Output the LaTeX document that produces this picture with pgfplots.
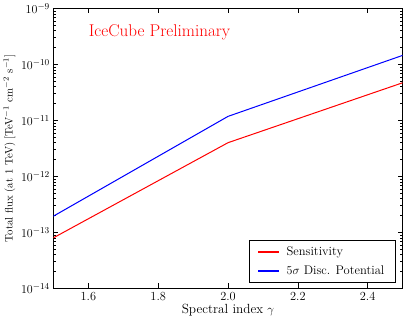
\documentclass[border={0pt 0pt 4pt 0pt}]{standalone}
\usepackage{pgfplots}
\pgfplotsset{compat=1.18}
\begin{document}
\begin{tikzpicture}
\begin{axis}[
  scale only axis,
  width=348pt, height=279pt,
  xmin=1.5, xmax=2.5,
  ymode=log, ymin=1e-14, ymax=1e-9,
  xtick={1.6,1.8,2.0,2.2,2.4},
  xticklabels={1.6,1.8,2.0,2.2,2.4},
  tick align=inside,
  tick style={black, line width=0.5pt},
  major tick length=5pt, minor tick length=2.5pt,
  minor x tick num=0,
  axis line style={line width=0.8pt},
  tick label style={font=\fontsize{12.3}{14}\selectfont},
  xlabel={Spectral index $\gamma$},
  ylabel={Total flux (at 1 TeV) [TeV$^{-1}$ cm$^{-2}$ s$^{-1}$]},
  xlabel style={font=\fontsize{13.2}{15}\selectfont, yshift=3pt},
  ylabel style={font=\fontsize{10.8}{13}\selectfont, yshift=-1pt},
  legend style={at={(1,0)}, anchor=south east, xshift=-7pt, yshift=6pt,
    font=\fontsize{12.5}{14}\selectfont, row sep=5pt, inner xsep=9pt, inner ysep=4pt},
  legend cell align=left,
]
\addplot[color=red, line width=1pt, forget plot] coordinates {(1.5,8.0e-14) (2.0,4.0e-12) (2.5,4.7e-11)};
\addplot[color=blue, line width=1pt, forget plot] coordinates {(1.5,1.95e-13) (2.0,1.18e-11) (2.5,1.45e-10)};
\addlegendimage{legend image code/.code={\color{red}\fill[red] (0cm,-0.55pt) rectangle (0.7cm,0.55pt);}}
\addlegendentry{\hspace{6pt}Sensitivity}
\addlegendimage{legend image code/.code={\color{blue}\fill[blue] (0cm,-0.55pt) rectangle (0.7cm,0.55pt);}}
\addlegendentry{\hspace{6pt}$5\sigma$ Disc. Potential}
\node[anchor=west, text=red, font=\fontsize{17}{20}\selectfont, xshift=-3pt] at (axis cs:1.6,3.7e-10) {IceCube Preliminary};
\end{axis}
\end{tikzpicture}
\end{document}
